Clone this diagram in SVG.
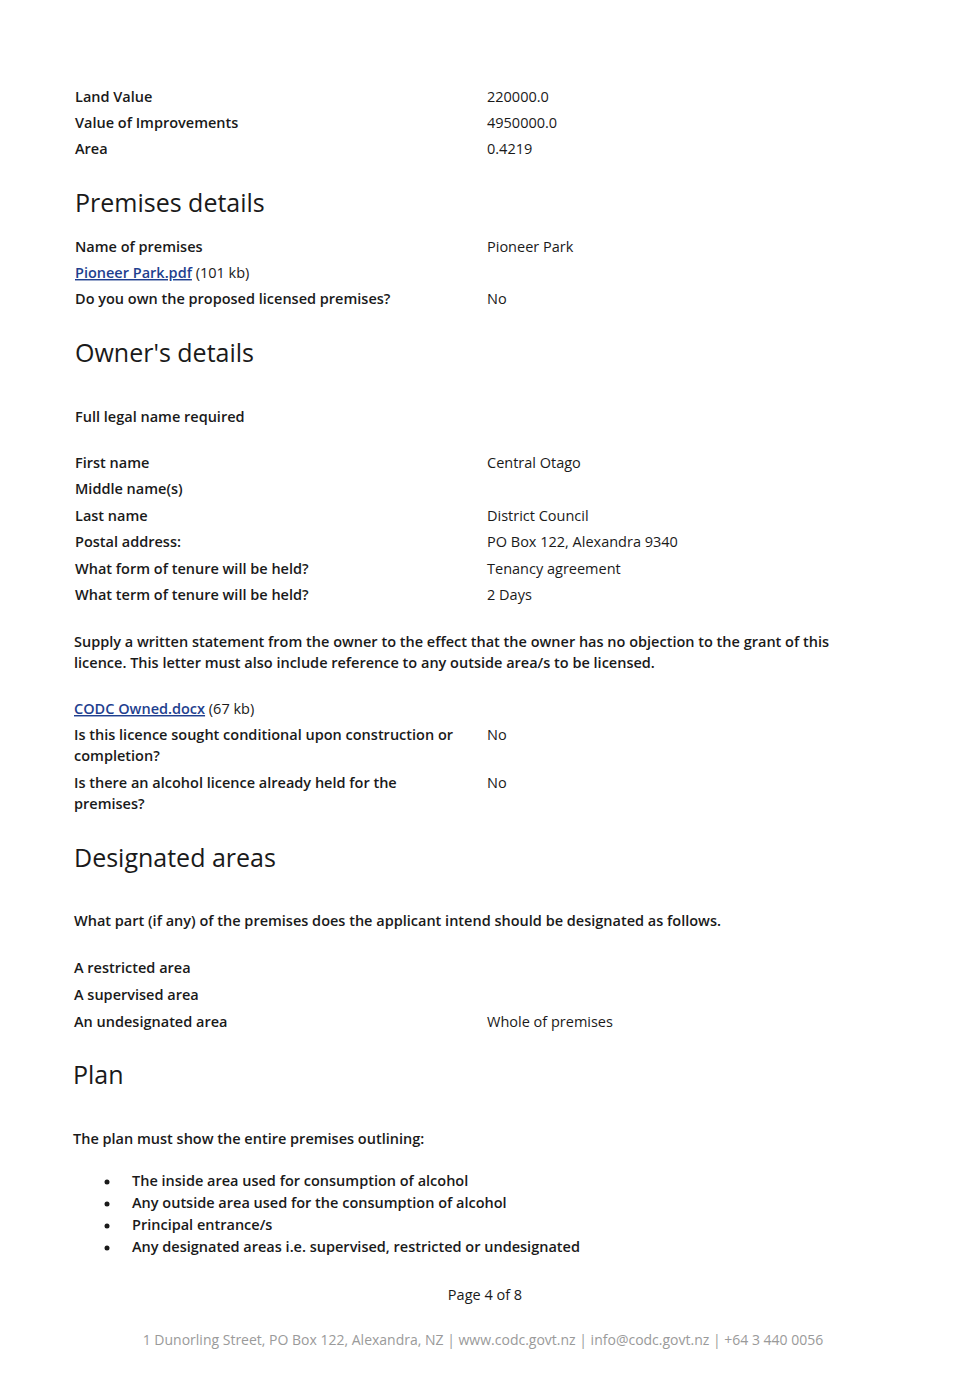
<svg xmlns="http://www.w3.org/2000/svg" width="967" height="1397" viewBox="0 0 967 1397">
<style>
text{font-family:"Open Sans","Noto Sans",sans-serif;fill:#1a1a1a}
.b{font-size:14.5px;font-weight:600}
.v{font-size:14.5px}
.h{font-size:25px}
.l{font-size:14.5px;fill:#1f3f8f;text-decoration:underline;font-weight:600}
.f{font-size:14px;fill:#9a9a9a}
</style>
<rect width="967" height="1397" fill="#fff"/>
<text class="b" x="75" y="102">Land Value</text><text class="v" x="487" y="102">220000.0</text>
<text class="b" x="75" y="128">Value of Improvements</text><text class="v" x="487" y="128">4950000.0</text>
<text class="b" x="75" y="154">Area</text><text class="v" x="487" y="154">0.4219</text>
<text class="h" x="75" y="212">Premises details</text>
<text class="b" x="75" y="252">Name of premises</text><text class="v" x="487" y="252">Pioneer Park</text>
<text x="75" y="278"><tspan class="l">Pioneer Park.pdf</tspan><tspan class="v"> (101 kb)</tspan></text>
<text class="b" x="75" y="304">Do you own the proposed licensed premises?</text><text class="v" x="487" y="304">No</text>
<text class="h" x="75" y="362">Owner's details</text>
<text class="b" x="75" y="422">Full legal name required</text>
<text class="b" x="75" y="468">First name</text><text class="v" x="487" y="468">Central Otago</text>
<text class="b" x="75" y="494">Middle name(s)</text>
<text class="b" x="75" y="521">Last name</text><text class="v" x="487" y="521">District Council</text>
<text class="b" x="75" y="547">Postal address:</text><text class="v" x="487" y="547">PO Box 122, Alexandra 9340</text>
<text class="b" x="75" y="574">What form of tenure will be held?</text><text class="v" x="487" y="574">Tenancy agreement</text>
<text class="b" x="75" y="600">What term of tenure will be held?</text><text class="v" x="487" y="600">2 Days</text>
<text class="b" x="74" y="647">Supply a written statement from the owner to the effect that the owner has no objection to the grant of this</text>
<text class="b" x="74" y="668">licence. This letter must also include reference to any outside area/s to be licensed.</text>
<text x="74" y="714"><tspan class="l">CODC Owned.docx</tspan><tspan class="v"> (67 kb)</tspan></text>
<text class="b" x="74" y="740">Is this licence sought conditional upon construction or</text><text class="v" x="487" y="740">No</text>
<text class="b" x="74" y="761">completion?</text>
<text class="b" x="74" y="788">Is there an alcohol licence already held for the</text><text class="v" x="487" y="788">No</text>
<text class="b" x="74" y="809">premises?</text>
<text class="h" x="74" y="867">Designated areas</text>
<text class="b" x="74" y="926">What part (if any) of the premises does the applicant intend should be designated as follows.</text>
<text class="b" x="74" y="973">A restricted area</text>
<text class="b" x="74" y="1000">A supervised area</text>
<text class="b" x="74" y="1027">An undesignated area</text><text class="v" x="487" y="1027">Whole of premises</text>
<text class="h" x="73" y="1084">Plan</text>
<text class="b" x="73" y="1144">The plan must show the entire premises outlining:</text>
<g class="b">
<circle cx="107" cy="1182" r="2.5" fill="#1a1a1a"/><text class="b" x="132" y="1186">The inside area used for consumption of alcohol</text>
<circle cx="107" cy="1204" r="2.5" fill="#1a1a1a"/><text class="b" x="132" y="1208">Any outside area used for the consumption of alcohol</text>
<circle cx="107" cy="1226" r="2.5" fill="#1a1a1a"/><text class="b" x="132" y="1230">Principal entrance/s</text>
<circle cx="107" cy="1248" r="2.5" fill="#1a1a1a"/><text class="b" x="132" y="1252">Any designated areas i.e. supervised, restricted or undesignated</text>
</g>
<text class="v" x="485" y="1300" text-anchor="middle">Page 4 of 8</text>
<text class="f" x="483" y="1345" text-anchor="middle">1 Dunorling Street, PO Box 122, Alexandra, NZ | www.codc.govt.nz | info@codc.govt.nz | +64 3 440 0056</text>
</svg>
